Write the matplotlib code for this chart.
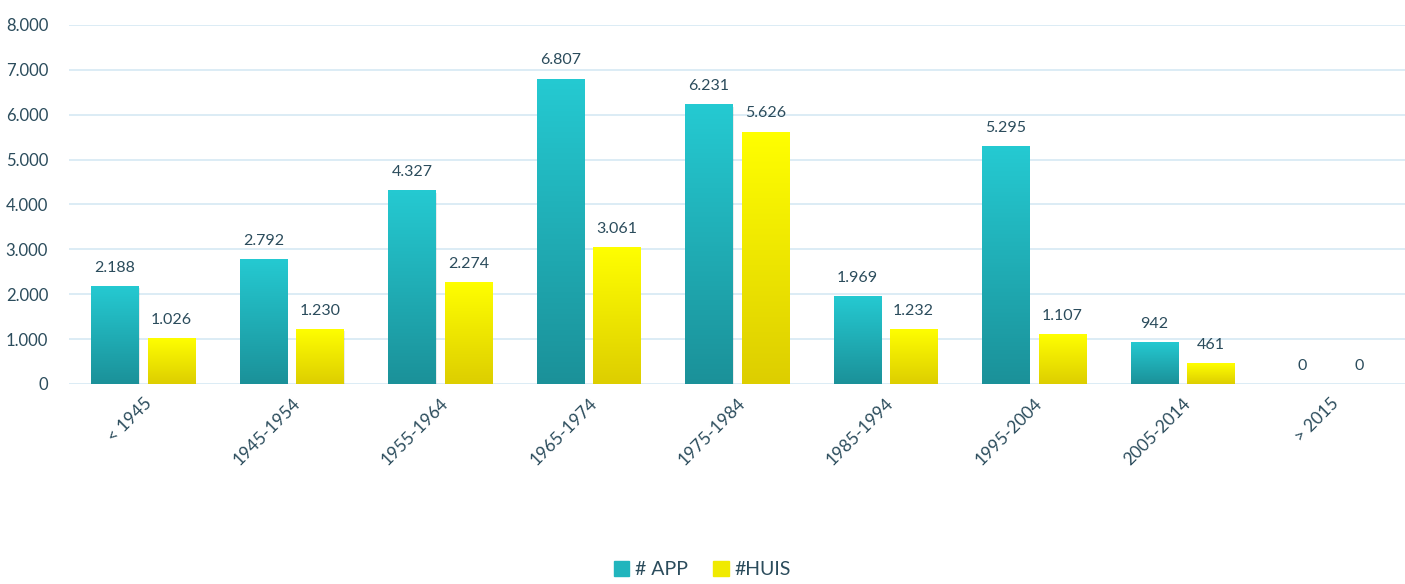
import matplotlib.pyplot as plt
import numpy as np
from matplotlib.colors import LinearSegmentedColormap
from matplotlib.patches import Patch

plt.rcParams['font.family'] = ['Lato', 'DejaVu Sans']

categories = ['< 1945', '1945-1954', '1955-1964', '1965-1974', '1975-1984',
              '1985-1994', '1995-2004', '2005-2014', '> 2015']
app = [2188, 2792, 4327, 6807, 6231, 1969, 5295, 942, 0]
huis = [1026, 1230, 2274, 3061, 5626, 1232, 1107, 461, 0]

txt = '#2B4C5C'
grid = '#D5E9F4'

teal = LinearSegmentedColormap.from_list('teal', ['#1B9199', '#25CAD2'])
yell = LinearSegmentedColormap.from_list('yell', ['#DDCE00', '#FFFF00'])

fig = plt.figure(figsize=(14.05, 5.84), dpi=100)
ax = fig.add_axes([0.0491, 0.3425, 0.9509, 0.6147])

x = np.arange(len(categories))
w = 0.317
grad = np.linspace(0, 1, 256).reshape(-1, 1)


def fmt(v):
    return f'{v:,}'.replace(',', '.')


def gbar(xc, h, cmap, label):
    b = ax.bar(xc, h, w, color='none', label=label, zorder=3)
    for rect, v in zip(b, h):
        if v <= 0:
            continue
        x0 = rect.get_x()
        # soft shadow
        ax.bar(x0 + w / 2 + 0.008, v, w, bottom=-60, color='#000000', alpha=0.08, zorder=2)
        im = ax.imshow(grad, extent=[x0, x0 + w, 0, v], origin='lower', cmap=cmap,
                       aspect='auto', zorder=3)
        im.set_clip_path(rect)
    for xi, v in zip(xc, h):
        ax.annotate(fmt(v), (xi, v), xytext=(0, 8), textcoords='offset points',
                    ha='center', va='bottom', fontsize=11.5, color=txt)
    return b


b1 = gbar(x - 0.19, app, teal, '# APP')
b2 = gbar(x + 0.19, huis, yell, '#HUIS')

ax.set_xlim(-0.5, len(categories) - 0.5)
ax.set_ylim(0, 8000)
ax.set_yticks(range(0, 8001, 1000))
ax.set_yticklabels([fmt(v) for v in range(0, 8001, 1000)], fontsize=12, color=txt)
ax.set_xticks(x)
ax.set_xticklabels(categories, rotation=45, ha='right', rotation_mode='anchor',
                   fontsize=12.5, color=txt)
ax.tick_params(length=0, pad=8)
ax.tick_params(axis='y', pad=15)
ax.grid(axis='y', color=grid, linewidth=1.2, zorder=0)
ax.set_axisbelow(True)
for s in ax.spines.values():
    s.set_visible(False)

handles = [Patch(color='#21B5BD'), Patch(color='#F0EA00')]
fig.legend(handles, ['# APP', '#HUIS'], loc='lower center', ncol=2, frameon=False,
           fontsize=14, labelcolor=txt, bbox_to_anchor=(0.5, -0.02),
           handlelength=0.8, handleheight=0.8, handletextpad=0.3, columnspacing=1.3)

fig.savefig('out.png', dpi=100)
